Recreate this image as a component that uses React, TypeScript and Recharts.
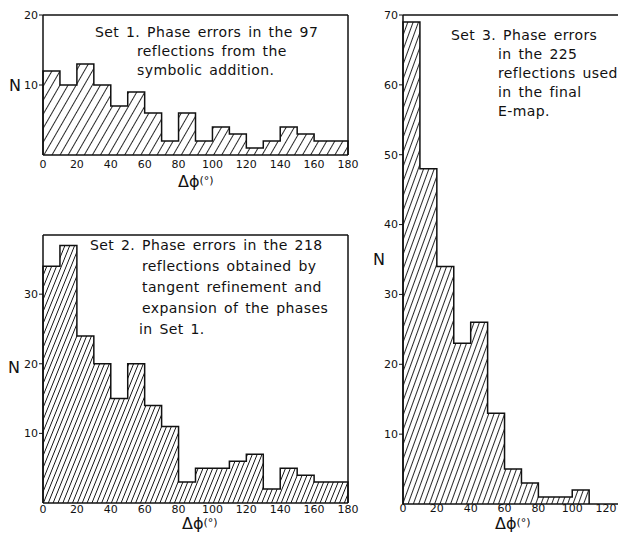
import { Area, AreaChart, ReferenceLine, XAxis, YAxis } from 'recharts'

// bin starts (degrees) and counts
const binWidth = 10
const set1Bins = [0, 10, 20, 30, 40, 50, 60, 70, 80, 90, 100, 110, 120, 130, 140, 150, 160, 170]
const set1Counts = [12, 10, 13, 10, 7, 9, 6, 2, 6, 2, 4, 3, 1, 2, 4, 3, 2, 2]
const set2Bins = [0, 10, 20, 30, 40, 50, 60, 70, 80, 90, 100, 110, 120, 130, 140, 150, 160, 170]
const set2Counts = [34, 37, 24, 20, 15, 20, 14, 11, 3, 5, 5, 6, 7, 2, 5, 4, 3, 3]
const set3Bins = [0, 10, 20, 30, 40, 50, 60, 70, 80, 90, 100]
const set3Counts = [69, 48, 34, 23, 26, 13, 5, 3, 1, 1, 2]

const wideXTicks = [0, 20, 40, 60, 80, 100, 120, 140, 160, 180]
const narrowXTicks = [0, 20, 40, 60, 80, 100, 120]
const set1YTicks = [10, 20]
const set2YTicks = [10, 20, 30]
const set3YTicks = [10, 20, 30, 40, 50, 60, 70]

const set1Text = ['Set 1. Phase errors in the 97', 'reflections from the', 'symbolic addition.']
const set2Text = [
  'Set 2. Phase errors in the 218',
  'reflections obtained by',
  'tangent refinement and',
  'expansion of the phases',
  'in Set 1.',
]
const set3Text = ['Set 3. Phase errors', 'in the 225', 'reflections used', 'in the final', 'E-map.']

const INK = '#111'
const FONT = 'DejaVu Sans, sans-serif'

function buildSteps(bins: number[], counts: number[]) {
  const pts = [{ x: bins[0], n: 0 }]
  bins.forEach((b, i) => pts.push({ x: b, n: counts[i] }))
  const end = bins[bins.length - 1] + binWidth
  pts.push({ x: end, n: counts[counts.length - 1] }, { x: end, n: 0 })
  return pts
}

type HistProps = {
  id: string
  left: number
  top: number
  width: number
  height: number
  margin: { top: number; right: number; bottom: number; left: number }
  bins: number[]
  counts: number[]
  xMax: number
  xTicks: number[]
  xTickGap: number
  yMax: number
  yTicks: number[]
  hatchGap: number
  hatchAngle: number
  rightBorder?: number
}

function Histogram(p: HistProps) {
  const data = buildSteps(p.bins, p.counts)
  return (
    <div style={{ position: 'absolute', left: p.left, top: p.top }}>
      <AreaChart width={p.width} height={p.height} data={data} margin={p.margin}>
        <defs>
          <pattern
            id={p.id}
            patternUnits="userSpaceOnUse"
            width={p.hatchGap}
            height={p.hatchGap}
            patternTransform={`rotate(${p.hatchAngle})`}
          >
            <line x1={p.hatchGap / 2} y1={0} x2={p.hatchGap / 2} y2={p.hatchGap} stroke={INK} strokeWidth={0.9} />
          </pattern>
        </defs>
        <XAxis
          dataKey="x"
          type="number"
          domain={[0, p.xMax]}
          ticks={p.xTicks}
          interval={0}
          height={30}
          tickLine={false}
          tickSize={p.xTickGap}
          tickMargin={0}
          axisLine={{ stroke: INK, strokeWidth: 1.5 }}
          tick={{ fill: INK, fontSize: 11, fontFamily: FONT }}
        />
        <YAxis
          type="number"
          domain={[0, p.yMax]}
          ticks={p.yTicks}
          interval={0}
          width={30}
          tickSize={4}
          tickMargin={1}
          axisLine={{ stroke: INK, strokeWidth: 1.5 }}
          tickLine={{ stroke: INK }}
          tick={{ fill: INK, fontSize: 11, fontFamily: FONT }}
        />
        <ReferenceLine y={p.yMax} stroke={INK} strokeWidth={1.5} />
        {p.rightBorder !== undefined && <ReferenceLine x={p.rightBorder} stroke={INK} strokeWidth={1.5} />}
        <Area
          type="stepAfter"
          dataKey="n"
          stroke={INK}
          strokeWidth={1.5}
          fill={`url(#${p.id})`}
          fillOpacity={1}
          dot={false}
          activeDot={false}
          isAnimationActive={false}
        />
      </AreaChart>
    </div>
  )
}

function Lines({ lines, x, y, step }: { lines: { text: string; dx: number }[]; x: number; y: number; step: number }) {
  return (
    <>
      {lines.map((l, i) => (
        <div
          key={i}
          style={{
            position: 'absolute',
            left: x + l.dx,
            top: y + i * step,
            fontSize: 14,
            letterSpacing: 0.4,
            wordSpacing: 2,
            lineHeight: '16px',
            whiteSpace: 'pre',
            color: INK,
          }}
        >
          {l.text}
        </div>
      ))}
    </>
  )
}

function Label({ x, y, children }: { x: number; y: number; children: React.ReactNode }) {
  return (
    <div style={{ position: 'absolute', left: x, top: y, fontSize: 16, lineHeight: '16px', color: INK, whiteSpace: 'pre' }}>
      {children}
    </div>
  )
}

function Dphi({ x, y }: { x: number; y: number }) {
  return (
    <div style={{ position: 'absolute', left: x, top: y, lineHeight: '14px', color: INK, whiteSpace: 'pre' }}>
      <span style={{ fontSize: 16 }}>Δϕ</span>
      <span style={{ fontSize: 11, position: 'relative', top: -3 }}>(°)</span>
    </div>
  )
}

export default function App() {
  return (
    <div
      style={{
        position: 'absolute',
        left: 0,
        top: 0,
        width: 618,
        height: 535,
        overflow: 'hidden',
        background: '#fff',
        fontFamily: FONT,
      }}
    >
      <Histogram
        id="hatch1"
        left={0}
        top={0}
        width={360}
        height={195}
        margin={{ top: 15, right: 12, bottom: 10, left: 13 }}
        bins={set1Bins}
        counts={set1Counts}
        xMax={180}
        xTicks={wideXTicks}
        xTickGap={5}
        yMax={20}
        yTicks={set1YTicks}
        hatchGap={7}
        hatchAngle={30}
        rightBorder={180}
      />
      <Histogram
        id="hatch2"
        left={0}
        top={220}
        width={360}
        height={315}
        margin={{ top: 15, right: 12, bottom: 2, left: 13 }}
        bins={set2Bins}
        counts={set2Counts}
        xMax={180}
        xTicks={wideXTicks}
        xTickGap={2}
        yMax={38.5}
        yTicks={set2YTicks}
        hatchGap={4.5}
        hatchAngle={22}
        rightBorder={180}
      />
      <Histogram
        id="hatch3"
        left={360}
        top={0}
        width={270}
        height={535}
        margin={{ top: 15, right: 7, bottom: 1, left: 13 }}
        bins={set3Bins}
        counts={set3Counts}
        xMax={130}
        xTicks={narrowXTicks}
        xTickGap={0}
        yMax={70}
        yTicks={set3YTicks}
        hatchGap={5}
        hatchAngle={20}
      />

      <Lines
        x={95}
        y={24}
        step={19}
        lines={set1Text.map((t, i) => ({ text: t, dx: i === 0 ? 0 : 42 }))}
      />
      <Lines
        x={90}
        y={237}
        step={21}
        lines={set2Text.map((t, i) => ({ text: t, dx: i === 0 ? 0 : i === 4 ? 49 : 52 }))}
      />
      <Lines
        x={451}
        y={27}
        step={19}
        lines={set3Text.map((t, i) => ({ text: t, dx: i === 0 ? 0 : 47 }))}
      />

      <Label x={9} y={78}>N</Label>
      <Label x={8} y={360}>N</Label>
      <Label x={373} y={252}>N</Label>

      <Dphi x={178} y={175} />
      <Dphi x={182} y={517} />
      <Dphi x={495} y={517} />
    </div>
  )
}
